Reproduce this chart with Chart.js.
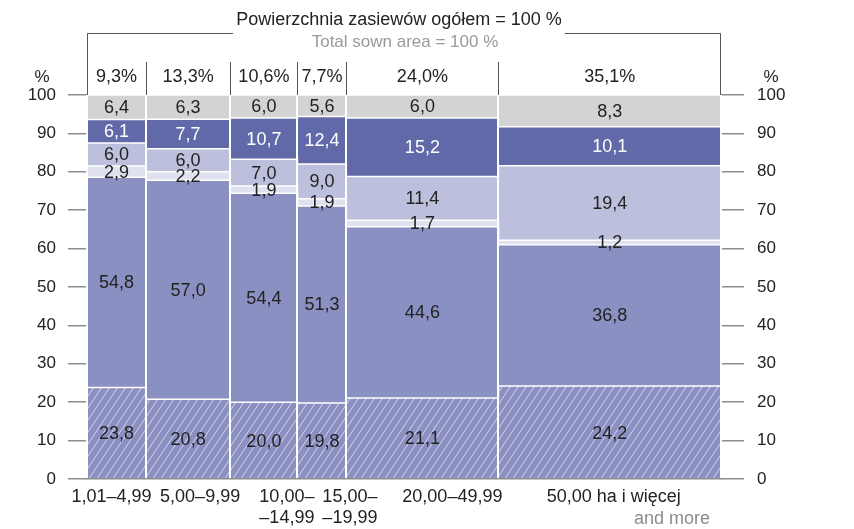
<!DOCTYPE html>
<html>
<head>
<meta charset="utf-8">
<style>
  html, body { margin: 0; padding: 0; background: #fff; }
  #wrap { width: 854px; height: 529px; }
</style>
<script src="https://cdn.jsdelivr.net/npm/chart.js@4.4.1/dist/chart.umd.min.js"></script>
</head>
<body>
<div id="wrap"><canvas id="chart"></canvas></div>
<script>
// farm size groups (ha) and their share of total sown area
const groups = [['1,01–4,99'], ['5,00–9,99'], ['10,00–', '–14,99'], ['15,00–', '–19,99'], ['20,00–49,99'], ['50,00 ha i więcej']];
const shares = [9.3, 13.3, 10.6, 7.7, 24.0, 35.1];

// crop structure in each group, bottom to top (%)
const layer1 = [23.8, 20.8, 20.0, 19.8, 21.1, 24.2];
const layer2 = [54.8, 57.0, 54.4, 51.3, 44.6, 36.8];
const layer3 = [2.9, 2.2, 1.9, 1.9, 1.7, 1.2];
const layer4 = [6.0, 6.0, 7.0, 9.0, 11.4, 19.4];
const layer5 = [6.1, 7.7, 10.7, 12.4, 15.2, 10.1];
const layer6 = [6.4, 6.3, 6.0, 5.6, 6.0, 8.3];

const yTicks = [0, 10, 20, 30, 40, 50, 60, 70, 80, 90, 100];

const layers = [layer1, layer2, layer3, layer4, layer5, layer6];
const fmt = v => v.toFixed(1).replace('.', ',');

// column edges on the 0..100 x scale
const edges = [0];
shares.forEach(s => edges.push(+(edges[edges.length - 1] + s).toFixed(2)));
edges[edges.length - 1] = 100;
const centers = shares.map((s, i) => (edges[i] + edges[i + 1]) / 2);

// cumulative tops of each layer
const tops = [];
layers.forEach((l, k) => {
  tops.push(l.map((v, i) => (k ? tops[k - 1][i] : 0) + v));
});

function hatch() {
  const c = document.createElement('canvas');
  c.width = 8; c.height = 12;
  const g = c.getContext('2d');
  g.fillStyle = '#8b90c2';
  g.fillRect(0, 0, 8, 12);
  g.strokeStyle = 'rgba(255,255,255,0.7)';
  g.lineWidth = 0.9;
  g.beginPath();
  g.moveTo(-8, 24); g.lineTo(16, -12);
  g.moveTo(-16, 24); g.lineTo(8, -12);
  g.moveTo(0, 24); g.lineTo(24, -12);
  g.stroke();
  return g.createPattern(c, 'repeat');
}

const colors = [hatch(), '#8b90c2', '#dfe1ef', '#bcc0dc', '#6269a8', '#d3d3d3'];
const labelColors = ['#222', '#222', '#222', '#222', '#fff', '#222'];
const xLabelShift = [-5, 12, 23, 28, 30, 4];

const datasets = layers.map((l, k) => {
  const pts = [];
  shares.forEach((s, i) => {
    pts.push({ x: edges[i], y: tops[k][i] });
    pts.push({ x: edges[i + 1], y: tops[k][i] });
  });
  return {
    data: pts,
    backgroundColor: colors[k],
    borderColor: '#fff',
    borderWidth: 1.5,
    pointRadius: 0,
    tension: 0,
    fill: k === 0 ? 'origin' : '-1'
  };
});

const FONT = '"Liberation Sans", Arial, sans-serif';

const annotations = {
  id: 'annotations',
  afterDraw(chart) {
    const { ctx, chartArea: a, scales } = chart;
    const x = scales.x, y = scales.y;
    ctx.save();
    ctx.textAlign = 'center';
    ctx.textBaseline = 'middle';

    // values inside the segments
    ctx.font = '18px ' + FONT;
    layers.forEach((l, k) => {
      l.forEach((v, i) => {
        const lo = k ? tops[k - 1][i] : 0;
        ctx.fillStyle = labelColors[k];
        ctx.fillText(fmt(v), x.getPixelForValue(centers[i]), y.getPixelForValue((lo + tops[k][i]) / 2) + 1);
      });
    });

    // title with bracket
    ctx.font = '18px ' + FONT;
    ctx.fillStyle = '#222';
    const title = 'Powierzchnia zasiewów ogółem = 100 %';
    const tx = 399;
    ctx.fillText(title, tx, 20);
    const tw = ctx.measureText(title).width;
    ctx.font = '17px ' + FONT;
    ctx.fillStyle = '#999';
    ctx.fillText('Total sown area = 100 %', 405, 42);

    ctx.strokeStyle = '#555';
    ctx.lineWidth = 1;
    ctx.beginPath();
    ctx.moveTo(a.left + 0.5, a.top);
    ctx.lineTo(a.left + 0.5, 33.5);
    ctx.lineTo(tx - tw / 2 - 3, 33.5);
    ctx.moveTo(tx + tw / 2 + 3, 33.5);
    ctx.lineTo(a.right - 0.5, 33.5);
    ctx.lineTo(a.right - 0.5, a.top);
    edges.slice(1, -1).forEach(e => {
      const px = Math.round(x.getPixelForValue(e)) + 0.5;
      ctx.moveTo(px, 62);
      ctx.lineTo(px, a.top);
    });
    ctx.stroke();

    // % unit over the value axes
    ctx.fillStyle = '#222';
    ctx.font = '17px ' + FONT;
    ctx.fillText('%', 42, 77);
    ctx.fillText('%', 771, 77);

    // category labels
    ctx.font = '18px ' + FONT;
    groups.forEach((g, i) => {
      const px = x.getPixelForValue(centers[i]) + xLabelShift[i];
      g.forEach((line, j) => ctx.fillText(line, px, 497 + j * 21));
    });
    ctx.fillStyle = '#8c8c8c';
    ctx.textAlign = 'right';
    ctx.fillText('and more', 710, 519);
    ctx.restore();
  }
};

Chart.defaults.font.family = FONT;
Chart.defaults.font.size = 17;
Chart.defaults.color = '#222';

const yAxis = (pos, width, pad, len) => ({
  type: 'linear',
  position: pos,
  display: true,
  min: 0,
  max: 100,
  afterBuildTicks: s => { s.ticks = yTicks.map(v => ({ value: v })); },
  afterFit: s => { s.width = width; },
  ticks: { padding: pad, color: '#222' },
  grid: { drawOnChartArea: false, tickLength: len, tickColor: '#8c8c8c', lineWidth: 1.5 },
  border: { display: false }
});

new Chart(document.getElementById('chart'), {
  type: 'line',
  data: { datasets },
  options: {
    responsive: true,
    maintainAspectRatio: false,
    animation: false,
    layout: { padding: 0 },
    plugins: { legend: { display: false }, tooltip: { enabled: false } },
    scales: {
      x: {
        type: 'linear',
        position: 'bottom',
        min: 0,
        max: 100,
        afterBuildTicks: s => { s.ticks = edges.map(v => ({ value: v })); },
        afterFit: s => { s.height = 50; },
        ticks: { display: false },
        grid: { color: '#fff', lineWidth: 2, drawTicks: false, z: 1 },
        border: { color: '#8c8c8c', width: 1.5, z: 2 }
      },
      x2: {
        type: 'linear',
        position: 'top',
        display: true,
        min: 0,
        max: 100,
        afterBuildTicks: s => { s.ticks = centers.map(v => ({ value: v })); },
        afterFit: s => { s.height = 95; },
        ticks: {
          autoSkip: false,
          maxRotation: 0,
          padding: 7,
          color: '#222',
          font: { size: 18 },
          callback: (v, i) => fmt(shares[i]) + '%'
        },
        grid: { display: false, drawTicks: false },
        border: { display: false }
      },
      y: yAxis('left', 87, 12, 19),
      y2: yAxis('right', 133, 13, 23)
    }
  },
  plugins: [annotations]
});
</script>
</body>
</html>
